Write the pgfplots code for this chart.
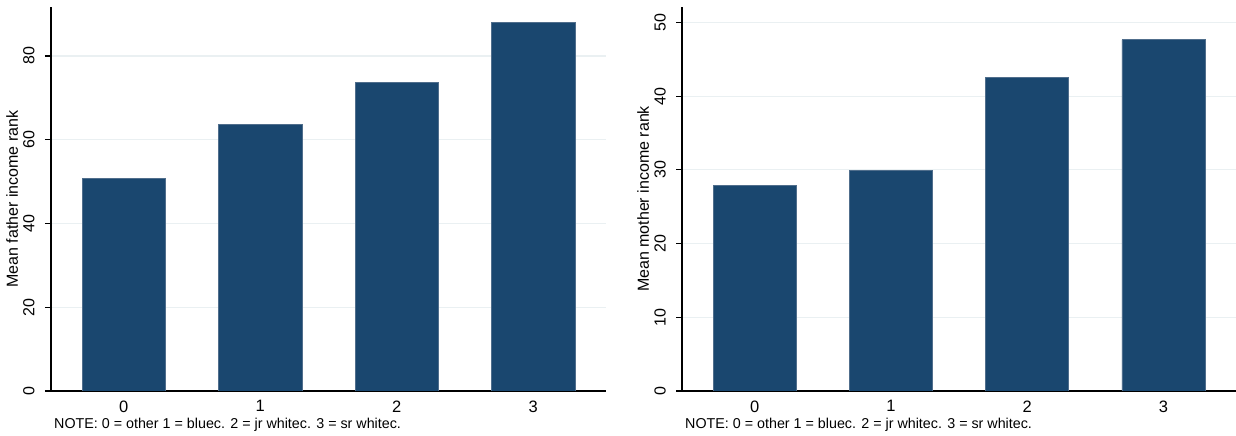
\documentclass[border=0pt]{standalone}
\usepackage{fontspec}
\setmainfont{Liberation Sans}
\usepackage{pgfplots}
\pgfplotsset{compat=1.18}
\definecolor{statanavy}{RGB}{26,71,111}
\definecolor{baredge}{RGB}{80,110,140}
\definecolor{gridc}{RGB}{234,240,242}
\tikzset{notestyle/.style={anchor=base west, font=\fontsize{14.3}{16}\selectfont, inner sep=0pt}}
\pgfplotsset{
  mybar/.style={
    scale only axis, height=384pt,
    axis lines*=left,
    axis line style={line width=1.2pt, black, -},
    xmin=-0.533, xmax=3.533, ymin=0,
    xtick={0,1,2,3},
    x tick style={draw=none},
    y tick style={line width=1.2pt, black},
    major tick length=6pt, tick align=outside,
    ytick pos=left, xtick pos=bottom,
    ymajorgrids, grid style={gridc, line width=1.2pt},
    /pgf/number format/assume math mode=true,
    yticklabel style={rotate=90, anchor=base, font=\fontsize{16}{18}\selectfont, inner sep=0pt, yshift=10.5pt},
    xticklabel style={font=\fontsize{16.5}{18}\selectfont},
    ylabel style={font=\fontsize{16}{18}\selectfont, at={(axis description cs:-0.07,0.5)}, anchor=center},
    ybar, bar width=0.61,
  },
  mybarplot/.style={fill=statanavy, draw=baredge, line width=0.6pt},
}
\begin{document}
\begin{tikzpicture}
\begin{axis}[mybar, name=L, at={(51pt,45pt)}, anchor=south west, width=555pt,
  ymax=91.7, ytick={0,20,40,60,80},
  ylabel={Mean father income rank}]
\addplot[mybarplot] coordinates {(0,50.7) (1,63.6) (2,73.6) (3,88.1)};
\end{axis}
\node[notestyle] at ([xshift=3pt, yshift=-38pt]L.south west) {NOTE: 0 = other 1 = bluec. 2 = jr whitec. 3 = sr whitec.};
\begin{axis}[mybar, name=R, at={(682pt,45pt)}, anchor=south west, width=554pt,
  ymax=52.1, ytick={0,10,20,30,40,50},
  ylabel={Mean mother income rank}]
\addplot[mybarplot] coordinates {(0,27.9) (1,29.9) (2,42.5) (3,47.65)};
\end{axis}
\node[notestyle] at ([xshift=3pt, yshift=-38pt]R.south west) {NOTE: 0 = other 1 = bluec. 2 = jr whitec. 3 = sr whitec.};
\pgfresetboundingbox
\path (0pt,0pt) rectangle (1236pt,436pt);
\end{tikzpicture}
\end{document}
